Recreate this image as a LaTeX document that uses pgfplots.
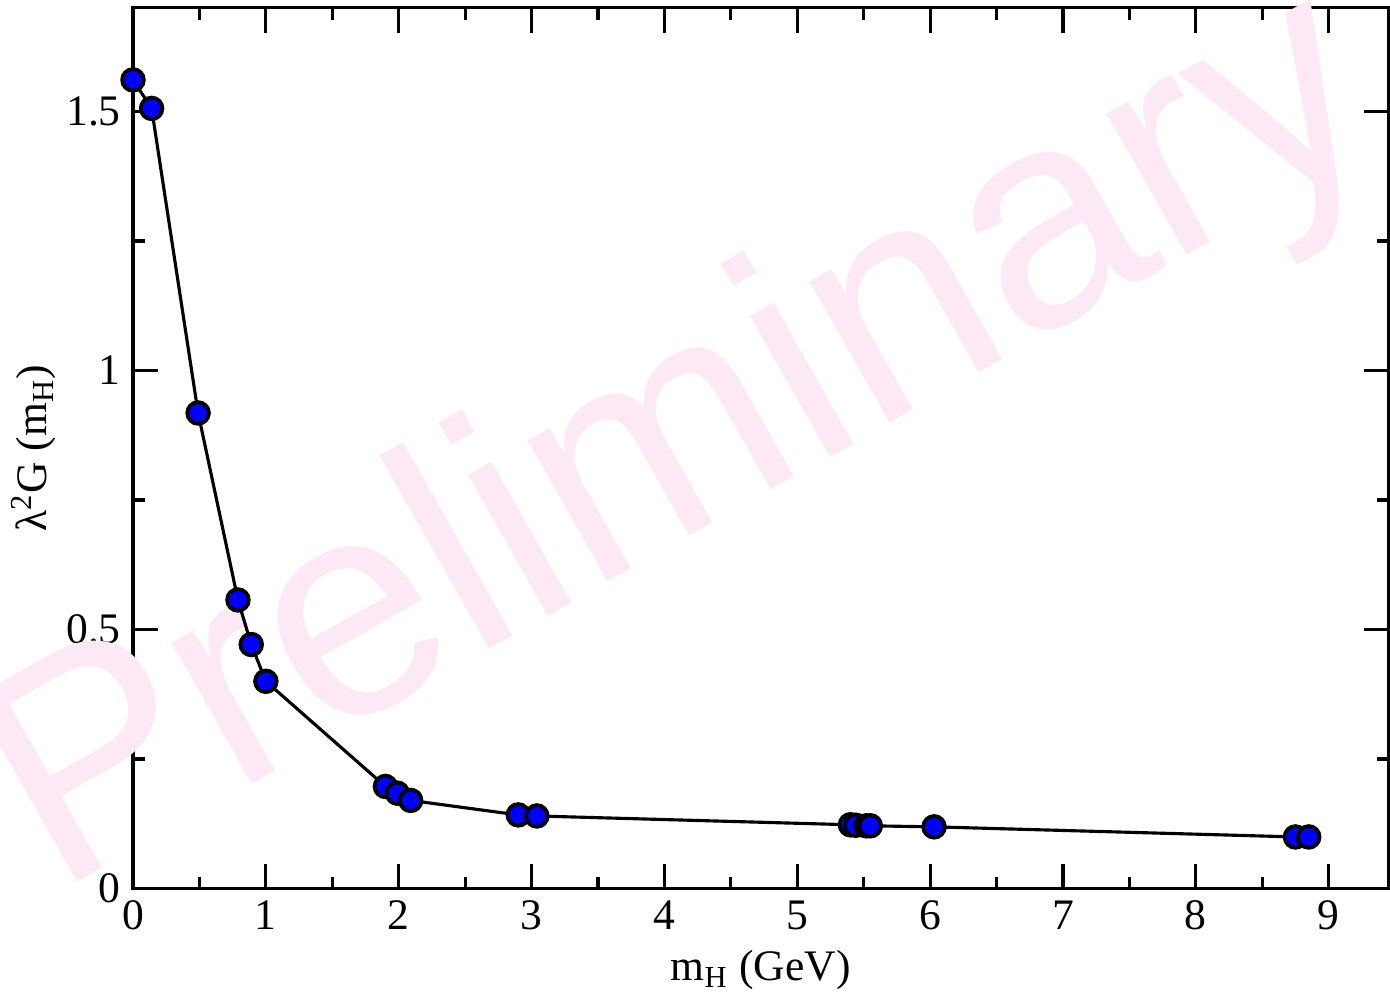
\documentclass[border=0pt]{standalone}
\usepackage{fontspec}
\setmainfont{Liberation Serif}
\newfontfamily\wmfont{Liberation Sans}
\usepackage{pgfplots}
\pgfplotsset{compat=1.18}

\begin{document}
\begin{tikzpicture}
\begin{axis}[
    scale only axis,
    width=12.66cm, height=8.88cm,
    xmin=0, xmax=9.45, ymin=0, ymax=1.7,
    xtick={0,1,...,9}, ytick={0,0.5,1,1.5},
    minor x tick num=1, minor y tick num=1,
    tick align=inside,
    major tick length=0.25cm, minor tick length=0.12cm,
    every tick/.style={black, line width=0.9pt},
    axis line style={line width=0.9pt},
    tick label style={font=\fontsize{12.5}{12.5}\selectfont},
    /pgf/number format/assume math mode=true,
    xlabel={m\textsubscript{H} (GeV)},
    ylabel={λ\textsuperscript{2}G (m\textsubscript{H})},
    label style={font=\fontsize{12.5}{12.5}\selectfont},
    xlabel style={yshift=1pt},
    ylabel style={yshift=-4pt},
    clip=false,
]
% watermark, kept out of the bounding box
\node[overlay, rotate=29.5, text=magenta!9, font=\wmfont\fontsize{88}{88}\selectfont,
      inner sep=0pt] at (axis cs:4.15,0.85) {Preliminary};
% a little white space above the frame
\path (rel axis cs:0,1) ++(0,0.08cm);
\addplot[black, line width=0.9pt, mark=*, mark size=3.1pt,
    mark options={fill=blue, draw=black, line width=1.1pt}] coordinates {
    (0.00,1.561) (0.14,1.506) (0.49,0.918) (0.79,0.557) (0.89,0.471)
    (1.00,0.400) (1.90,0.197) (1.99,0.184) (2.09,0.170) (2.90,0.142)
    (3.04,0.140) (5.40,0.123) (5.44,0.122) (5.52,0.121) (5.55,0.121)
    (6.03,0.119) (8.75,0.0995) (8.85,0.0995)
};
\end{axis}
\end{tikzpicture}
\end{document}
